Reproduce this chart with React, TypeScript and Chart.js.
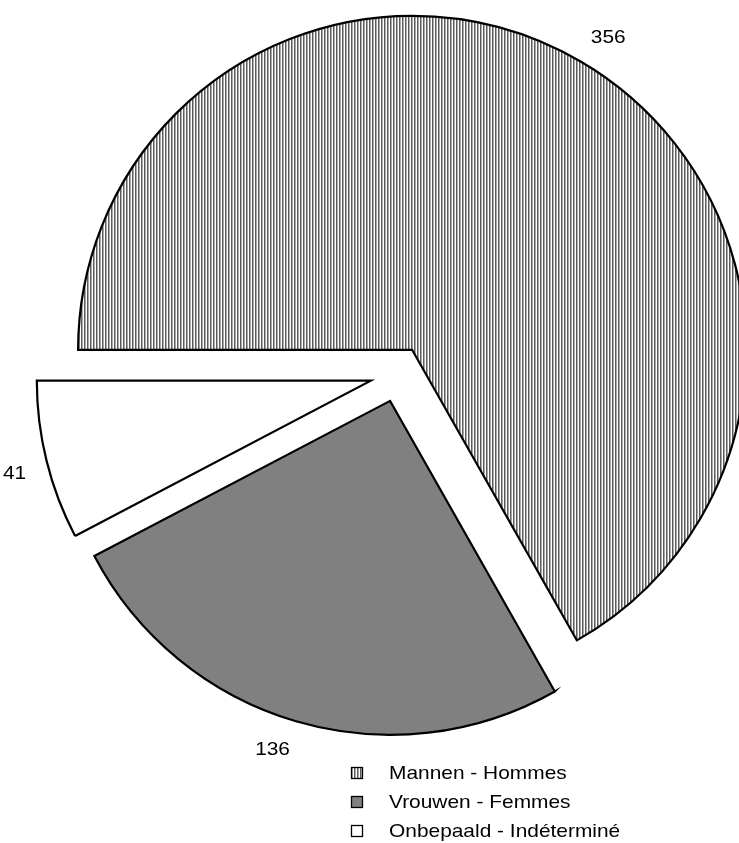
import React, { useEffect, useRef } from "react";
import { Chart, ArcElement, PieController } from "chart.js";

Chart.register(ArcElement, PieController);

// Data
const categories = ["Mannen - Hommes", "Vrouwen - Femmes", "Onbepaald - Indéterminé"];
const counts = [356, 136, 41];

// Styling
const FONT = '19px "Liberation Sans", Arial, Helvetica, sans-serif';
const TEXT_STRETCH = 1.1;
const DIGIT_HEIGHT = 13.6;
const EXPLODE = 28; // every slice is pushed this many px out from the centre
const RADIUS = 334;
const LABEL_GAP = 21;

function makeHatch(): CanvasPattern | string {
  const tile = document.createElement("canvas");
  tile.width = 3;
  tile.height = 1;
  const t = tile.getContext("2d");
  if (!t) return "#bbbbbb";
  t.fillStyle = "#ffffff";
  t.fillRect(0, 0, 3, 1);
  t.fillStyle = "#5c5c5c";
  t.fillRect(0, 0, 1, 1);
  t.fillStyle = "#a9a9a9";
  t.fillRect(1, 0, 1, 1);
  const p = t.createPattern(tile, "repeat");
  return p || "#bbbbbb";
}

function stretchedText(ctx: CanvasRenderingContext2D, text: string, x: number, y: number, align: CanvasTextAlign) {
  ctx.save();
  ctx.translate(x, y);
  ctx.scale(TEXT_STRETCH, 1);
  ctx.textAlign = align;
  ctx.fillText(text, 0, 0);
  ctx.restore();
}

export default function App() {
  const canvasRef = useRef<HTMLCanvasElement | null>(null);

  useEffect(() => {
    const canvas = canvasRef.current;
    if (!canvas) return;
    const hatch = makeHatch();
    const fills = [hatch, "#808080", "#ffffff"];

    // Move each slice's centre outward along its bisector (uniform explode).
    const explode = {
      id: "explode",
      afterDatasetUpdate(chart: any, args: any) {
        const meta = args.meta || chart.getDatasetMeta(args.index);
        meta.data.forEach((arc: any) => {
          const mid = (arc.startAngle + arc.endAngle) / 2;
          arc.x += Math.cos(mid) * EXPLODE;
          arc.y += Math.sin(mid) * EXPLODE;
        });
      },
    };

    // Value labels: the label corner nearest the slice sits on the bisector, just outside the rim.
    const valueLabels = {
      id: "valueLabels",
      afterDatasetsDraw(chart: any) {
        const ctx: CanvasRenderingContext2D = chart.ctx;
        const meta = chart.getDatasetMeta(0);
        ctx.save();
        ctx.font = FONT;
        ctx.fillStyle = "#000";
        ctx.textBaseline = "alphabetic";
        meta.data.forEach((arc: any, i: number) => {
          const { x, y, startAngle, endAngle, outerRadius } = arc;
          const mid = (startAngle + endAngle) / 2;
          const text = String(counts[i]);
          const d = outerRadius + LABEL_GAP;
          const px = x + Math.cos(mid) * d;
          const py = y + Math.sin(mid) * d;
          const align: CanvasTextAlign = Math.cos(mid) >= 0 ? "left" : "right";
          const baseline = Math.sin(mid) < 0 ? py : py + DIGIT_HEIGHT;
          stretchedText(ctx, text, px, baseline, align);
        });
        ctx.restore();
      },
    };

    const legendBox = {
      id: "legendBox",
      afterDraw(chart: any) {
        const ctx: CanvasRenderingContext2D = chart.ctx;
        ctx.save();
        ctx.font = FONT;
        ctx.textBaseline = "alphabetic";
        const boxX = 351;
        const textX = 389;
        const firstBaseline = 779;
        const step = 29;
        categories.forEach((name, i) => {
          const base = firstBaseline + i * step;
          ctx.fillStyle = fills[i] as any;
          ctx.fillRect(boxX + 0.5, base - 11.5, 11, 11);
          ctx.strokeStyle = "#000";
          ctx.lineWidth = 1.3;
          ctx.strokeRect(boxX + 0.5, base - 11.5, 11, 11);
          ctx.fillStyle = "#000";
          stretchedText(ctx, name, textX, base, "left");
        });
        ctx.restore();
      },
    };

    const chart = new Chart(canvas, {
      type: "pie",
      data: {
        labels: categories,
        datasets: [
          {
            data: counts,
            backgroundColor: fills as any,
            borderColor: "#000",
            borderWidth: 2.2,
            borderJoinStyle: "miter" as any,
            offset: 0,
            hoverOffset: 0,
            clip: false as any,
          },
        ],
      },
      options: {
        responsive: false,
        animation: false,
        devicePixelRatio: 1,
        rotation: 270,
        radius: RADIUS,
        layout: { padding: { left: 57, right: 0, top: 0, bottom: 95 } },
        events: [],
        plugins: {
          legend: { display: false },
          tooltip: { enabled: false },
        },
      } as any,
      plugins: [explode, valueLabels, legendBox],
    });

    return () => chart.destroy();
  }, []);

  return (
    <div style={{ position: "absolute", left: 0, top: 0, width: 739, height: 843, background: "#fff" }}>
      <canvas ref={canvasRef} width={739} height={843} style={{ display: "block" }} />
    </div>
  );
}
